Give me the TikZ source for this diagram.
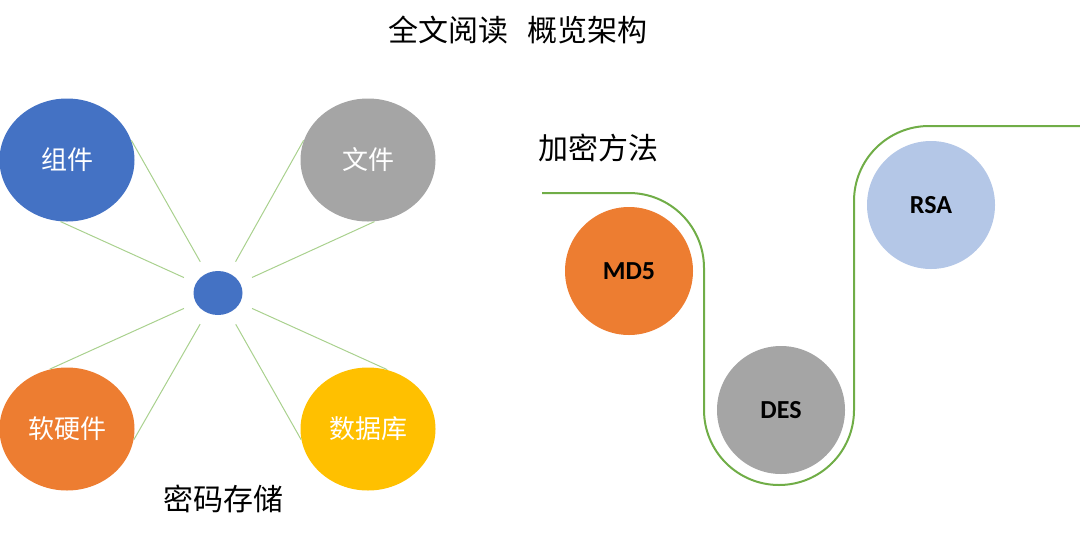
\documentclass[tikz,border=0pt]{standalone}
\usepackage{fontspec}
\setmainfont{Carlito}
\newfontfamily\cjk{Noto Sans CJK SC}
\usetikzlibrary{shapes.geometric}
\definecolor{OBlue}{HTML}{4472C4}
\definecolor{OGray}{HTML}{A5A5A5}
\definecolor{OOrange}{HTML}{ED7D31}
\definecolor{OYellow}{HTML}{FFC000}
\definecolor{OSky}{HTML}{B4C7E7}
\definecolor{OLeaf}{HTML}{A9D18E}
\definecolor{OGreen}{HTML}{70AD47}

\begin{document}
\begin{tikzpicture}[x=0.5pt,y=-0.5pt,
  bubble/.style={ellipse,minimum width=67.5pt,minimum height=61.5pt,inner sep=0pt,text=white,font=\cjk\fontsize{13}{15}\selectfont},
  algo/.style={circle,minimum size=64pt,inner sep=0pt,font=\bfseries\fontsize{13}{15}\selectfont},
  spoke/.style={draw=OLeaf,line width=0.5pt,shorten >=6.5pt},
  wave/.style={draw=OGreen,line width=1pt,rounded corners=37.5pt},
  head/.style={font=\cjk\fontsize{15}{18}\selectfont}]
\useasboundingbox (0,0) rectangle (1080,536);
\node[head] (title) at (518,30) {全文阅读\hspace{0.65em}概览架构};
% password storage
\node[ellipse,fill=OBlue,minimum width=24.5pt,minimum height=22pt,inner sep=0pt] (hub) at (218,293) {};
\node[bubble,fill=OBlue] (zj) at (67,160) {组件};
\node[bubble,fill=OGray] (wj) at (368,160) {文件};
\node[bubble,fill=OOrange] (rhj) at (67,429) {软硬件};
\node[bubble,fill=OYellow] (sjk) at (368,429) {数据库};
\node[head] (store) at (223,499) {密码存储};
\draw[spoke] (zj.17) -- (hub); \draw[spoke] (zj.-96) -- (hub);
\draw[spoke] (wj.163) -- (hub); \draw[spoke] (wj.-84) -- (hub);
\draw[spoke] (rhj.106) -- (hub); \draw[spoke] (rhj.-9) -- (hub);
\draw[spoke] (sjk.72) -- (hub); \draw[spoke] (sjk.189) -- (hub);
% encryption methods
\node[head] (crypt) at (598,148) {加密方法};
\draw[wave] (542,193) -- (704,193) -- (704,485) -- (854,485) -- (854,126) -- (1080,126);
\node[algo,fill=OOrange] (md5) at (629,271) {MD5};
\node[algo,fill=OGray] (des) at (781,410) {DES};
\node[algo,fill=OSky] (rsa) at (931,205) {RSA};
\end{tikzpicture}
\end{document}
